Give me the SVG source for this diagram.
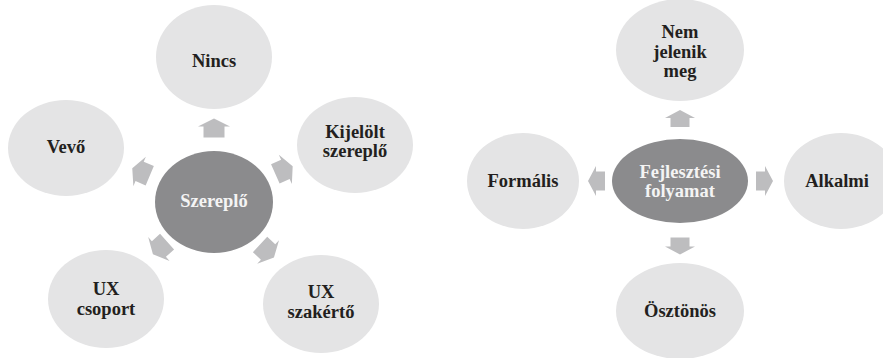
<svg xmlns="http://www.w3.org/2000/svg" xmlns:xlink="http://www.w3.org/1999/xlink" width="883" height="358" viewBox="0 0 883 358">
<style>
.outer{fill:#e4e4e5}
.hub{fill:#8b8b8d}
.arr{fill:#bdbdbf}
.t{font-family:'Liberation Serif','Times New Roman','DejaVu Serif',serif;font-weight:700;font-size:18.5px;text-anchor:middle}
.dark{fill:#231f20}
.light{fill:#f4f4f4}
</style>
<defs>
<path id="arrowA" d="M0,-9.5 L16,-1.5 L10.5,-1.5 L10.5,9.5 L-10.5,9.5 L-10.5,-1.5 L-16,-1.5 Z"/>
<path id="arrowB" d="M0,-8.5 L15,-0.5 L9.5,-0.5 L9.5,8.5 L-9.5,8.5 L-9.5,-0.5 L-15,-0.5 Z"/>
</defs>
<rect width="883" height="358" fill="#ffffff"/>
<g id="connectors" class="arr">
<use xlink:href="#arrowA" transform="translate(214,128)"/>
<use xlink:href="#arrowA" transform="translate(284,170) rotate(66)"/>
<use xlink:href="#arrowA" transform="translate(141,172) rotate(-67)"/>
<use xlink:href="#arrowA" transform="translate(160,248) rotate(-132)"/>
<use xlink:href="#arrowA" transform="translate(267,251) rotate(133)"/>
<use xlink:href="#arrowB" transform="translate(680,118.5)"/>
<use xlink:href="#arrowB" transform="translate(680,246) rotate(180)"/>
<use xlink:href="#arrowB" transform="translate(596.5,181) rotate(-90)"/>
<use xlink:href="#arrowB" transform="translate(764.5,181) rotate(90)"/>
</g>
<g id="node-szereplo">
<ellipse class="hub" cx="214" cy="202" rx="59" ry="51"/>
<text class="t light" x="214" y="207">Szereplő</text>
</g>
<g id="node-nincs">
<ellipse class="outer" cx="214" cy="57" rx="58" ry="52"/>
<text class="t dark" x="214" y="67">Nincs</text>
</g>
<g id="node-kijelolt">
<ellipse class="outer" cx="355" cy="145" rx="58" ry="48"/>
<text class="t dark" x="355" y="138">Kijelölt</text>
<text class="t dark" x="355" y="157">szereplő</text>
</g>
<g id="node-vevo">
<ellipse class="outer" cx="66" cy="148" rx="58" ry="48"/>
<text class="t dark" x="66" y="153">Vevő</text>
</g>
<g id="node-ux-csoport">
<ellipse class="outer" cx="106" cy="299" rx="58" ry="49"/>
<text class="t dark" x="106" y="295">UX</text>
<text class="t dark" x="106" y="315">csoport</text>
</g>
<g id="node-ux-szakerto">
<ellipse class="outer" cx="321" cy="304" rx="58" ry="49"/>
<text class="t dark" x="321" y="298">UX</text>
<text class="t dark" x="321" y="318">szakértő</text>
</g>
<g id="node-fejlesztesi">
<ellipse class="hub" cx="680" cy="181" rx="68" ry="42"/>
<text class="t light" x="680" y="178">Fejlesztési</text>
<text class="t light" x="680" y="197">folyamat</text>
</g>
<g id="node-nem-jelenik-meg">
<ellipse class="outer" cx="680" cy="50" rx="64" ry="51"/>
<text class="t dark" x="680" y="38">Nem</text>
<text class="t dark" x="680" y="58">jelenik</text>
<text class="t dark" x="680" y="77">meg</text>
</g>
<g id="node-formalis">
<ellipse class="outer" cx="523" cy="181" rx="56" ry="48"/>
<text class="t dark" x="523" y="187">Formális</text>
</g>
<g id="node-alkalmi">
<ellipse class="outer" cx="841" cy="181" rx="57" ry="48"/>
<text class="t dark" x="837" y="187">Alkalmi</text>
</g>
<g id="node-osztonos">
<ellipse class="outer" cx="680" cy="311" rx="64" ry="48"/>
<text class="t dark" x="680" y="317">Ösztönös</text>
</g>
</svg>
